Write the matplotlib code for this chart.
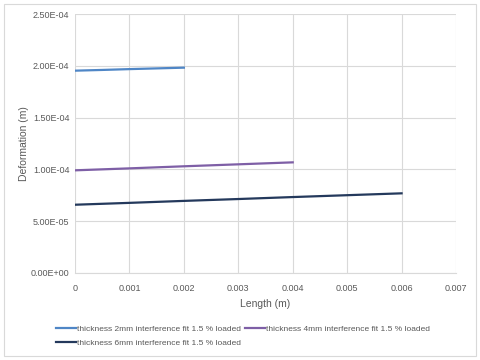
import matplotlib
matplotlib.use("Agg")
import matplotlib.pyplot as plt
from matplotlib.patches import Rectangle

# data
len_2mm = [0.0, 0.0005, 0.001, 0.0015, 0.002]
def_2mm = [1.953e-4, 1.960e-4, 1.968e-4, 1.975e-4, 1.982e-4]

len_4mm = [0.0, 0.001, 0.002, 0.003, 0.004]
def_4mm = [9.91e-5, 1.010e-4, 1.030e-4, 1.049e-4, 1.068e-4]

len_6mm = [0.0, 0.001, 0.002, 0.003, 0.004, 0.005, 0.006]
def_6mm = [6.59e-5, 6.77e-5, 6.96e-5, 7.14e-5, 7.33e-5, 7.51e-5, 7.69e-5]

labels = ["thickness 2mm interference fit 1.5 % loaded",
          "thickness 4mm interference fit 1.5 % loaded",
          "thickness 6mm interference fit 1.5 % loaded"]
colors = ["#4F86C6", "#7E5FA6", "#24395C"]

x_ticks = [0, 0.001, 0.002, 0.003, 0.004, 0.005, 0.006, 0.007]
y_ticks = [0, 5e-5, 1e-4, 1.5e-4, 2e-4, 2.5e-4]

plt.rcParams['font.family'] = ['Liberation Sans', 'DejaVu Sans']
TXT = "#595959"

fig = plt.figure(figsize=(4.8, 3.6), dpi=100)
fig.patches.append(Rectangle((4/480, 4/360), 472/480, 352/360, transform=fig.transFigure,
                             fill=False, edgecolor="#D9D9D9", linewidth=0.8))

ax = fig.add_axes([75/480, 87/360, 381/480, 259/360])
h1, = ax.plot(len_2mm, def_2mm, color=colors[0], lw=1.6, label=labels[0])
h2, = ax.plot(len_4mm, def_4mm, color=colors[1], lw=1.6, label=labels[1])
h3, = ax.plot(len_6mm, def_6mm, color=colors[2], lw=1.6, label=labels[2])

ax.set_xlim(0, 0.007)
ax.set_ylim(0, 2.5e-4)
ax.set_xticks(x_ticks)
ax.set_xticklabels(["0" if v == 0 else f"{v:g}" for v in x_ticks])
ax.set_yticks(y_ticks)
ax.set_yticklabels([f"{v:.2E}" for v in y_ticks])
ax.grid(True, color="#D9D9D9", lw=0.8)
ax.set_axisbelow(True)
for s in ["top", "right", "left"]:
    ax.spines[s].set_visible(False)
ax.spines["bottom"].set_color("#D9D9D9")
ax.tick_params(length=0, labelsize=6.5, colors=TXT)
ax.tick_params(axis="x", pad=8)
ax.tick_params(axis="y", pad=4)

ax.set_xlabel("Length (m)", fontsize=7.5, color=TXT, labelpad=4)
ax.set_ylabel("Deformation (m)", fontsize=7.5, color=TXT)
ax.yaxis.set_label_coords(-46/381, 0.5)

fig.legend([h1, h3, h2], [labels[0], labels[2], labels[1]], ncol=2,
           loc="upper left", bbox_to_anchor=(48/480, 42/360), frameon=False,
           fontsize=6.0, labelcolor=TXT, handlelength=2.4, handletextpad=0.15,
           columnspacing=0.5, labelspacing=0.7)

fig.savefig("out.png", dpi=100)
